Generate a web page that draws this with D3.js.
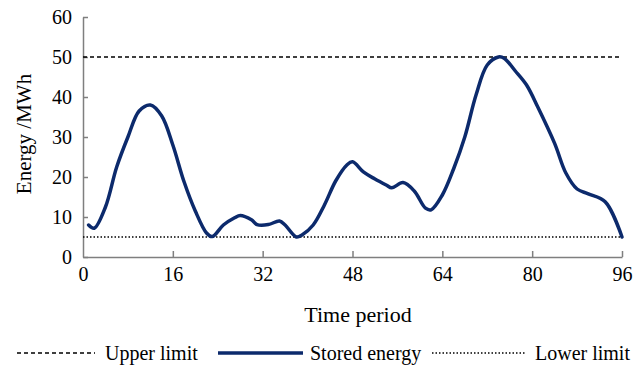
<!DOCTYPE html>
<html>
<head>
<meta charset="utf-8">
<script src="https://cdn.jsdelivr.net/npm/d3@7"></script>
<style>
  body { margin: 0; background: #fff; }
  svg { font-family: "Liberation Serif", "Times New Roman", serif; }
</style>
</head>
<body>
<svg width="643" height="368"></svg>
<script>
// stored energy
var periods = [1, 2, 4, 6, 8, 10, 12, 14, 16, 18, 20, 22, 23, 25, 27, 28, 30, 31, 33, 35, 36, 38, 39, 41, 43, 45, 47, 48,
    50, 52, 54, 55, 57, 59, 61, 62, 64, 66, 68, 70, 72, 74, 75, 77, 79, 81, 84, 86, 88, 90, 93, 96];
var stored = [8, 7.2, 12.5, 22.5, 30, 36.5, 38, 35.3, 28, 18.8, 11.5, 6, 5.1, 8, 9.8, 10.4, 9.3, 8.1, 8.1, 9, 8, 5, 5.5, 8, 13, 19, 23, 23.8,
    21.2, 19.5, 18, 17.3, 18.6, 16.5, 12.2, 11.8, 15.5, 22, 30, 40.5, 48, 50, 49.7, 46.5, 43, 37.5, 28.4, 21, 17, 15.8, 13.8, 5];
var upperLimit = 50, lowerLimit = 5;
var xTicks = [0, 16, 32, 48, 64, 80, 96];
var yTicks = [0, 10, 20, 30, 40, 50, 60];
var legendNames = ["Upper limit", "Stored energy", "Lower limit"];

var data = periods.map(function(p, i) { return { t: p, v: stored[i] }; });

var margin = { top: 17, left: 83 };
var width = 539, height = 240;
var svg = d3.select("svg");
var g = svg.append("g").attr("transform", "translate(" + margin.left + "," + margin.top + ")");

var x = d3.scaleLinear().domain([0, 96]).range([0, width]);
var y = d3.scaleLinear().domain([0, 60]).range([height, 0]);

// axes, ticks pointing inwards
var xAxis = g.append("g")
    .attr("transform", "translate(0," + height + ")")
    .call(d3.axisBottom(x).tickValues(xTicks).tickSizeInner(-6).tickSizeOuter(0).tickPadding(10));
xAxis.selectAll(".tick").filter(function(d) { return d === 0; }).select("line").remove();

var yAxis = g.append("g")
    .call(d3.axisLeft(y).tickValues(yTicks).tickSizeInner(-5).tickSizeOuter(0).tickPadding(11));

[xAxis, yAxis].forEach(function(a) {
    a.selectAll(".domain, line").attr("stroke", "#7f7f7f").attr("stroke-width", 1.5);
    a.selectAll("text").attr("fill", "#000").style("font-size", "20px")
        .style("font-family", "'Liberation Serif', 'Times New Roman', serif");
});

// limits
g.append("line")
    .attr("x1", x(0)).attr("x2", x(96))
    .attr("y1", y(upperLimit)).attr("y2", y(upperLimit))
    .attr("stroke", "#000").attr("stroke-width", 1.5).attr("stroke-dasharray", "4,3");

g.append("line")
    .attr("x1", x(0)).attr("x2", x(96))
    .attr("y1", y(lowerLimit)).attr("y2", y(lowerLimit))
    .attr("stroke", "#000").attr("stroke-width", 1.5).attr("stroke-dasharray", "1.5,2");

// stored energy
var line = d3.line()
    .x(function(d) { return x(d.t); })
    .y(function(d) { return y(d.v); })
    .curve(d3.curveCatmullRom.alpha(0.5));

g.append("path")
    .datum(data)
    .attr("fill", "none")
    .attr("stroke", "#0c2a6c")
    .attr("stroke-width", 3.5)
    .attr("stroke-linejoin", "round")
    .attr("stroke-linecap", "round")
    .attr("d", line);

// axis titles
svg.append("text")
    .attr("transform", "translate(31," + (margin.top + height / 2 - 3) + ") rotate(-90)")
    .attr("text-anchor", "middle")
    .style("font-size", "21px")
    .text("Energy /MWh");

svg.append("text")
    .attr("x", 358).attr("y", 322)
    .attr("text-anchor", "middle")
    .style("font-size", "22px")
    .text("Time period");

// legend
var legendY = 353;
var legendItems = [
    { name: legendNames[0], x1: 17, x2: 95, tx: 105, dash: "4,3", w: 1.5, color: "#000" },
    { name: legendNames[1], x1: 218, x2: 303, tx: 310, dash: null, w: 3.5, color: "#0c2a6c" },
    { name: legendNames[2], x1: 432, x2: 525, tx: 535, dash: "1.5,2", w: 1.5, color: "#000" }
];
var lg = svg.append("g");
legendItems.forEach(function(d) {
    lg.append("line")
        .attr("x1", d.x1).attr("x2", d.x2).attr("y1", legendY).attr("y2", legendY)
        .attr("stroke", d.color).attr("stroke-width", d.w)
        .attr("stroke-dasharray", d.dash);
    lg.append("text")
        .attr("x", d.tx).attr("y", legendY).attr("dy", "0.35em")
        .style("font-size", "20px")
        .text(d.name);
});
</script>
</body>
</html>
